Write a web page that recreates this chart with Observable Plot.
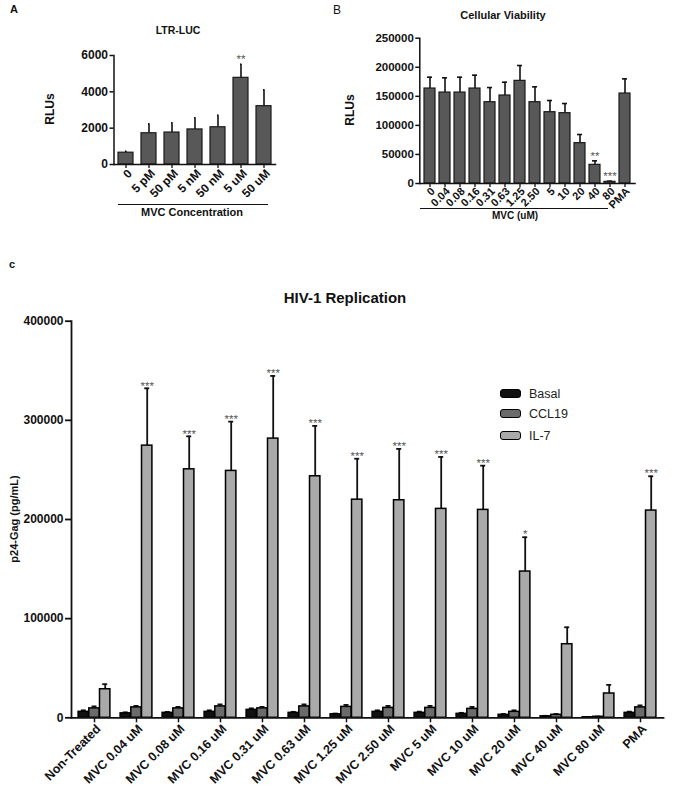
<!DOCTYPE html>
<html>
<head>
<meta charset="utf-8">
<script src="https://cdn.jsdelivr.net/npm/d3@7"></script>
<script src="https://cdn.jsdelivr.net/npm/@observablehq/plot@0.6"></script>
<style>
  body { margin: 0; background: #fff; }
  #root { position: relative; width: 675px; height: 793px; background: #fff; overflow: hidden;
          font-family: Arial, "Liberation Sans", sans-serif; color: #111; }
  .abs { position: absolute; white-space: nowrap; }
  .t { transform: translate(-50%, -50%); }
  .rot { transform: translate(-50%, -50%) rotate(-90deg); }
  .panel { position: absolute; }
  .sw { position: absolute; width: 19px; height: 7px; border: 1.5px solid #000; border-radius: 3px; }
</style>
</head>
<body>
<div id="root"></div>
<script>
// ---------- Panel A: LTR-LUC ----------
const ltrLabels = ["0", "5 pM", "50 pM", "5 nM", "50 nM", "5 uM", "50 uM"];
const ltrMeans  = [650, 1720, 1760, 1930, 2050, 4770, 3210];
const ltrErrors = [80, 520, 535, 640, 665, 750, 900];
const ltrStars  = ["", "", "", "", "", "**", ""];
const ltrTicks  = [0, 2000, 4000, 6000];

// ---------- Panel B: Cellular Viability ----------
const viaLabels = ["0", "0.04", "0.08", "0.16", "0.31", "0.63", "1.25", "2.50", "5", "10", "20", "40", "80", "PMA"];
const viaMeans  = [163400, 156500, 156500, 163400, 139900, 151400, 176600, 139900, 122700, 121000, 69400, 32100, 2900, 154800];
const viaErrors = [19500, 25300, 26400, 23000, 25200, 22900, 26400, 26400, 20100, 16600, 14900, 6900, 1100, 25200];
const viaStars  = ["", "", "", "", "", "", "", "", "", "", "", "**", "***", ""];
const viaTicks  = [0, 50000, 100000, 150000, 200000, 250000];

// ---------- Panel C: HIV-1 Replication ----------
const hivGroups = ["Non-Treated", "MVC 0.04 uM", "MVC 0.08 uM", "MVC 0.16 uM", "MVC 0.31 uM", "MVC 0.63 uM",
  "MVC 1.25 uM", "MVC 2.50 uM", "MVC 5 uM", "MVC 10 uM", "MVC 20 uM", "MVC 40 uM", "MVC 80 uM", "PMA"];
const hivSeries = ["Basal", "CCL19", "IL-7"];
const basalMeans  = [6000, 4500, 5000, 6000, 8000, 5000, 3500, 6000, 5000, 4000, 3000, 1500, 500, 5000];
const basalErrors = [1500, 1000, 1000, 1500, 1500, 1000, 800, 1500, 1200, 1000, 800, 500, 200, 1200];
const ccl19Means  = [9500, 10500, 9500, 11500, 9500, 11500, 11000, 10000, 10000, 9000, 6000, 3000, 1000, 10500];
const ccl19Errors = [2000, 1500, 1500, 2000, 1500, 2000, 2000, 2000, 2000, 2000, 1500, 800, 300, 2000];
const il7Means    = [28800, 274500, 250600, 249000, 281600, 243600, 220000, 219400, 210700, 209700, 147500, 74200, 24500, 209000];
const il7Errors   = [5100, 57800, 33300, 49700, 63200, 50800, 41300, 51800, 52400, 44600, 34600, 17100, 8700, 34600];
const il7Stars    = ["", "***", "***", "***", "***", "***", "***", "***", "***", "***", "*", "", "", "***"];
const hivTicks    = [0, 100000, 200000, 300000, 400000];
const hivColors   = ["#111111", "#6b6b6b", "#a9a9a9"];

const root = document.getElementById("root");
function addText(txt, x, y, css, cls = "t") {
  const d = document.createElement("div");
  d.className = "abs " + cls;
  d.textContent = txt;
  d.style.left = x + "px";
  d.style.top = y + "px";
  Object.assign(d.style, css);
  root.appendChild(d);
  return d;
}
function addLine(x, y, w) {
  const d = document.createElement("div");
  d.className = "abs";
  Object.assign(d.style, {left: x + "px", top: y + "px", width: w + "px", height: "0px", borderTop: "1.3px solid #111"});
  root.appendChild(d);
}
function place(svg, left, top) {
  svg.classList.add("panel");
  svg.style.left = left + "px";
  svg.style.top = top + "px";
  root.appendChild(svg);
}
const fmt = d => String(d);
const blank = () => "";
const bold = {fontWeight: "bold"};

// x axis: tick marks at band centres, rotated labels shifted slightly below-right of the tick
function xAxis(tickSize, strokeWidth, fontSize, dx, dy) {
  return [
    Plot.axisX({tickSize, strokeWidth, tickFormat: blank, label: null}),
    Plot.axisX({tickSize: 0, tickPadding: tickSize + 1, tickRotate: -45, fontSize, dx, dy, label: null})
  ];
}

// ---- simple bar chart builder for A and B ----
function simpleChart({labels, means, errors, stars, ticks, width, height, ml, mr, mt, mb, padIn, padOut, capInset, starDy, xFont, yFont, ldx, ldy}) {
  const data = labels.map((l, i) => ({label: l, mean: means[i], top: means[i] + errors[i], star: stars[i]}));
  return Plot.plot({
    width, height,
    marginLeft: ml, marginRight: mr, marginTop: mt, marginBottom: mb,
    style: {fontFamily: "Arial, 'Liberation Sans', sans-serif", fontWeight: "bold", fontSize: "11px", color: "#111", background: "transparent"},
    x: {domain: labels, paddingInner: padIn, paddingOuter: padOut, label: null},
    y: {domain: [0, ticks[ticks.length - 1]], label: null},
    marks: [
      Plot.ruleX(data, {x: "label", y1: "mean", y2: "top", stroke: "#111", strokeWidth: 1.6}),
      Plot.tickY(data, {x: "label", y: "top", stroke: "#111", strokeWidth: 1.6, insetLeft: capInset, insetRight: capInset}),
      Plot.barY(data, {x: "label", y: "mean", fill: "#585858", stroke: "#1a1a1a", strokeWidth: 1.2}),
      Plot.text(data, {x: "label", y: "top", text: "star", dy: starDy, fill: "#555", fontSize: 11.5, fontWeight: "normal"}),
      Plot.frame({anchor: "left", stroke: "#111", strokeWidth: 1.5}),
      Plot.frame({anchor: "bottom", stroke: "#111", strokeWidth: 1.5}),
      Plot.axisY({ticks, tickFormat: fmt, tickSize: 4, tickPadding: 2, strokeWidth: 1.5, fontSize: yFont, label: null}),
      ...xAxis(4, 1.3, xFont, ldx, ldy)
    ]
  });
}

// Panel A
place(simpleChart({labels: ltrLabels, means: ltrMeans, errors: ltrErrors, stars: ltrStars, ticks: ltrTicks,
  width: 300, height: 225, ml: 113.5, mr: 25, mt: 55, mb: 61, padIn: 0.33, padOut: 0.1, capInset: 8, starDy: -4.5,
  xFont: 12, yFont: 12, ldx: 4, ldy: 2}), 0, 0);
addText("A", 14, 9, {fontSize: "11px", fontWeight: "bold"});
addText("LTR-LUC", 178, 30, {fontSize: "10.5px", ...bold});
addText("RLUs", 50, 109, {fontSize: "12px", ...bold}, "rot");
addLine(118, 204, 150);
addText("MVC Concentration", 192, 212, {fontSize: "11px", ...bold});

// Panel B
place(simpleChart({labels: viaLabels, means: viaMeans, errors: viaErrors, stars: viaStars, ticks: viaTicks,
  width: 345, height: 225, ml: 89.3, mr: 40.5, mt: 37.7, mb: 42, padIn: 0.27, padOut: 0.05, capInset: 3, starDy: -5,
  xFont: 11, yFont: 11.5, ldx: 3, ldy: 1}), 330, 0);
addText("B", 337, 10, {fontSize: "12px"});
addText("Cellular Viability", 503, 15, {fontSize: "11px", ...bold});
addText("RLUs", 350, 110, {fontSize: "12px", ...bold}, "rot");
addLine(420, 208, 188);
addText("MVC (uM)", 515, 215, {fontSize: "10px", ...bold});

// Panel C
const series = [basalMeans, ccl19Means, il7Means];
const seriesErr = [basalErrors, ccl19Errors, il7Errors];
const barW = 10.7;
const offsets = [-barW, 0, barW];
const hivMarks = [];
hivSeries.forEach((s, k) => {
  const data = hivGroups.map((g, i) => ({group: g, mean: series[k][i], top: series[k][i] + seriesErr[k][i],
    star: k === 2 ? il7Stars[i] : ""}));
  hivMarks.push(
    Plot.ruleX(data, {x: "group", y1: "mean", y2: "top", dx: offsets[k], stroke: "#111", strokeWidth: 1.8}),
    Plot.tickY(data, {x: "group", y: "top", dx: offsets[k], stroke: "#111", strokeWidth: 1.8, insetLeft: 18.5, insetRight: 18.5}),
    Plot.barY(data, {x: "group", y: "mean", dx: offsets[k], fill: hivColors[k], stroke: "#000", strokeWidth: 1.5,
      insetLeft: 15.8, insetRight: 15.8}),
    Plot.text(data, {x: "group", y: "top", dx: offsets[k], text: "star", dy: -2.5, fill: "#555", fontSize: 11.5, fontWeight: "normal"})
  );
});
const chartC = Plot.plot({
  width: 675, height: 503,
  marginLeft: 71, marginRight: 12, marginTop: 30.7, marginBottom: 75.7,
  style: {fontFamily: "Arial, 'Liberation Sans', sans-serif", fontWeight: "bold", fontSize: "12px", color: "#111", background: "transparent"},
  x: {domain: hivGroups, padding: 0, label: null},
  y: {domain: [0, 400000], label: null},
  marks: [
    ...hivMarks,
    Plot.frame({anchor: "left", stroke: "#111", strokeWidth: 1.8}),
    Plot.frame({anchor: "bottom", stroke: "#111", strokeWidth: 1.8}),
    Plot.axisY({ticks: hivTicks, tickFormat: fmt, tickSize: 6, tickPadding: 2, strokeWidth: 1.8, fontSize: 12, label: null}),
    ...xAxis(5, 1.5, 12.5, 4, 3)
  ]
});
place(chartC, 0, 290);
addText("c", 12, 264, {fontSize: "11px", ...bold});
addText("HIV-1 Replication", 345, 297, {fontSize: "15px", ...bold});
addText("p24-Gag (pg/mL)", 14, 519, {fontSize: "11px", ...bold}, "rot");

// legend
const legY = [394, 414, 436];
hivSeries.forEach((s, k) => {
  const sw = document.createElement("div");
  sw.className = "sw";
  sw.style.left = "500px";
  sw.style.top = (legY[k] - 5) + "px";
  sw.style.background = hivColors[k];
  root.appendChild(sw);
  const t = addText(s, 529, legY[k], {fontSize: "12.5px", color: "#222"}, "");
  t.style.transform = "translateY(-50%)";
});
</script>
</body>
</html>
